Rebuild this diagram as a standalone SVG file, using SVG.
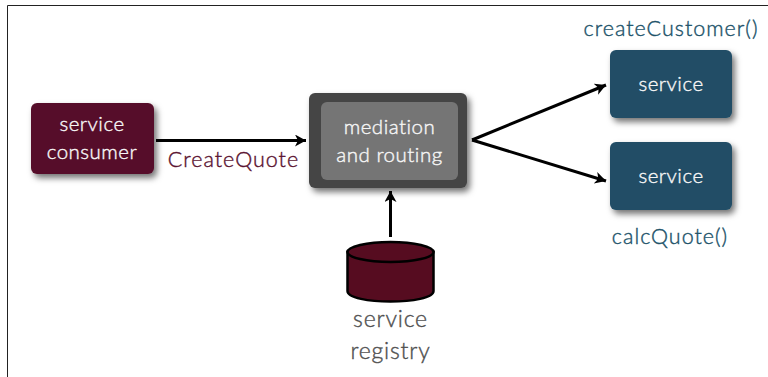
<svg xmlns="http://www.w3.org/2000/svg" width="768" height="377" viewBox="0 0 768 377">
<style>
text{font-family:Lato,"Open Sans",sans-serif;text-anchor:middle;font-weight:300;stroke-width:.4px}
.w{fill:#f6f6f6;stroke:#f6f6f6;font-size:20.500px;letter-spacing:.5px}
.g{fill:#505050;stroke:#505050;font-size:23px;letter-spacing:.8px}
.m{fill:#5a1230;stroke:#5a1230;font-size:21.500px;letter-spacing:1px}
.b{fill:#205269;stroke:#205269;font-size:21.500px;letter-spacing:1px}
.c{stroke:#000;stroke-width:3;fill:none;marker-end:url(#a)}
.f{stroke:#222;fill:none;stroke-width:1}
</style>
<defs>
<marker id="a" markerUnits="userSpaceOnUse" markerWidth="14" markerHeight="14" refX="11" refY="6" orient="auto"><path d="M0 0 L11 6 L0 12 L3 6Z" fill="#000"/></marker>
<filter id="s" x="-15%" y="-15%" width="135%" height="135%"><feDropShadow dx="3" dy="4" stdDeviation="3" flood-color="#000" flood-opacity=".55"/></filter>
</defs>
<rect width="768" height="377" fill="#fff"/>
<path class="f" d="M7.500 377V5.500H768"/>
<g id="connectors">
<path class="c" d="M156 140.500H306"/>
<path class="c" d="M472 140L606 85"/>
<path class="c" d="M472 140L606 181"/>
<path class="c" d="M390.500 237V191"/>
</g>
<g id="consumer"><rect x="31" y="103" width="123" height="71" rx="6" fill="#561029" filter="url(#s)"/><text class="w" x="92" y="131">service</text><text class="w" x="92" y="159">consumer</text></g>
<text class="m" x="233.500" y="167">CreateQuote</text>
<g id="mediation"><rect x="309" y="93" width="158" height="95" rx="6" fill="#454545" filter="url(#s)"/><rect x="321" y="102" width="137" height="78" rx="6" fill="#757575"/><text class="w" x="389.500" y="134">mediation</text><text class="w" x="389.500" y="162">and routing</text></g>
<g id="service1"><rect x="610" y="50" width="122" height="68" rx="6" fill="#204d66" filter="url(#s)"/><text class="w" x="671" y="91">service</text></g>
<text class="b" x="671" y="36">createCustomer()</text>
<g id="service2"><rect x="610" y="142" width="122" height="68" rx="6" fill="#204d66" filter="url(#s)"/><text class="w" x="671" y="183">service</text></g>
<text class="b" x="670" y="244">calcQuote()</text>
<g id="registry"><path d="M347.500 252V291C347.500 305 433.500 305 433.500 291V252Z" fill="#560c20" stroke="#000" stroke-width="2.500"/><ellipse cx="390.500" cy="252" rx="43" ry="10" fill="#560c20" stroke="#000" stroke-width="2.500"/><text class="g" x="390.500" y="327">service</text><text class="g" x="390.500" y="359">registry</text></g>
</svg>
